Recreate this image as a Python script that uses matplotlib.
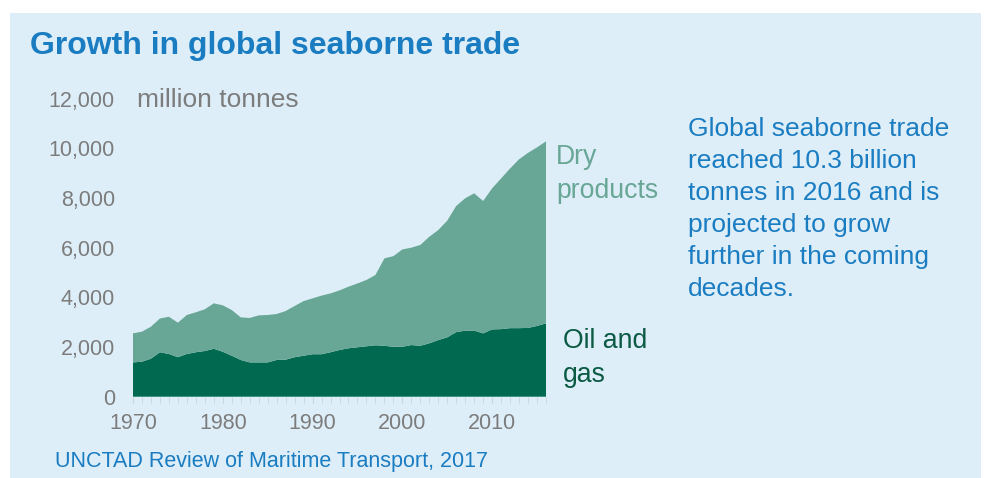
import matplotlib
matplotlib.use("Agg")
import matplotlib.pyplot as plt
from matplotlib.patches import Rectangle
from matplotlib.ticker import MultipleLocator, FuncFormatter

# annees et tonnages (millions de tonnes)
years = list(range(1970, 2017))
oil_gas = [1380, 1410, 1530, 1790, 1720, 1590, 1720, 1790, 1840, 1930,
           1810, 1650, 1480, 1380, 1380, 1380, 1480, 1490, 1590, 1650,
           1710, 1710, 1790, 1880, 1950, 1990, 2030, 2070, 2050, 2010,
           2010, 2080, 2050, 2150, 2280, 2390, 2600, 2660, 2660, 2550,
           2710, 2720, 2760, 2760, 2770, 2850, 2950]
total_trade = [2550, 2620, 2820, 3150, 3220, 2980, 3290, 3400, 3520, 3760,
               3680, 3490, 3195, 3170, 3275, 3290, 3330, 3450, 3650, 3850,
               3960, 4070, 4160, 4280, 4430, 4560, 4700, 4900, 5570, 5660,
               5930, 6000, 6110, 6440, 6710, 7090, 7680, 7990, 8190, 7880,
               8390, 8790, 9190, 9560, 9820, 10040, 10280]
dry_products = [t - o for t, o in zip(total_trade, oil_gas)]
y_ticks = [0, 2000, 4000, 6000, 8000, 10000, 12000]
x_ticks = [1970, 1980, 1990, 2000, 2010]

BG = "#deeef8"
DARK = "#00694f"
LIGHT = "#68a696"
BLUE = "#1a7cc1"
GREY = "#7c7c7c"

plt.rcParams["font.family"] = ["Liberation Sans", "DejaVu Sans"]

fig = plt.figure(figsize=(9.86, 4.78), dpi=100, facecolor="white")
# panneau bleu clair en fond
fig.patches.append(Rectangle((10 / 986, 0), 971 / 986, 465 / 478,
                             transform=fig.transFigure, facecolor=BG,
                             edgecolor="none", zorder=0))

ax = fig.add_axes([133 / 986, 1 - 396.7 / 478, 413 / 986, 298 / 478])
ax.set_zorder(2)
ax.set_facecolor(BG)
ax.stackplot(years, oil_gas, dry_products, colors=[DARK, LIGHT],
             linewidth=0)
ax.set_xlim(1970, 2016)
ax.set_ylim(0, 12000)
for s in ax.spines.values():
    s.set_visible(False)

ax.set_xticks(x_ticks)
ax.xaxis.set_minor_locator(MultipleLocator(1))
ax.set_yticks(y_ticks)
ax.yaxis.set_major_formatter(FuncFormatter(lambda v, p: f"{int(v):,}"))
ax.tick_params(axis="y", length=0, pad=13, labelsize=15.5, labelcolor=GREY)
ax.tick_params(axis="x", which="both", length=4, color="#cbd3d8",
               direction="out", labelsize=15.5, labelcolor=GREY, pad=8)

fig.text(30 / 986, 1 - 46 / 478, "Growth in global seaborne trade",
         fontsize=23, fontweight="bold", color=BLUE, va="center")
fig.text(137 / 986, 1 - 100 / 478, "million tonnes", fontsize=19,
         color=GREY, va="center")

fig.text(556 / 986, 1 - 144 / 478, "Dry\nproducts", fontsize=19.2,
         color=LIGHT, va="top", linespacing=1.42)
fig.text(563 / 986, 1 - 328 / 478, "Oil and\ngas", fontsize=19.2,
         color="#0b5a44", va="top", linespacing=1.42)

fig.text(688 / 986, 1 - 117 / 478,
         "Global seaborne trade\nreached 10.3 billion\n"
         "tonnes in 2016 and is\nprojected to grow\n"
         "further in the coming\ndecades.",
         fontsize=19, color=BLUE, va="top", linespacing=1.42)

fig.text(55 / 986, 1 - 461 / 478, "UNCTAD Review of Maritime Transport, 2017",
         fontsize=15.5, color=BLUE, va="center")

fig.savefig("out.png", dpi=100, facecolor="white")
